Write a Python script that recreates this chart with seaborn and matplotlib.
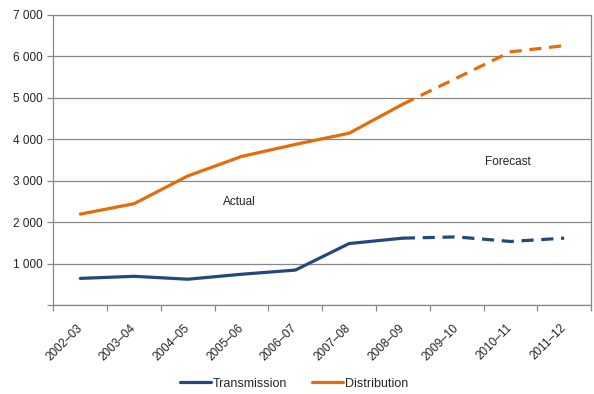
import matplotlib
matplotlib.use("Agg")
import matplotlib.pyplot as plt
import seaborn as sns
import pandas as pd
import numpy as np
from matplotlib.ticker import FixedLocator, FuncFormatter
from matplotlib.lines import Line2D

years = ["2002–03", "2003–04", "2004–05", "2005–06", "2006–07",
         "2007–08", "2008–09", "2009–10", "2010–11", "2011–12"]
transmission = [650, 700, 630, 750, 850, 1490, 1620, 1650, 1540, 1620]
distribution = [2200, 2450, 3120, 3590, 3880, 4150, 4850, 5480, 6110, 6260]
last_actual = 6  # index of 2008–09, where forecast begins

blue = "#23497C"
orange = "#E46C0A"

sns.set_theme(style="white")
plt.rcParams["font.family"] = ["Liberation Sans", "DejaVu Sans"]

pos = np.arange(len(years))
df = pd.DataFrame({"pos": pos, "Transmission": transmission, "Distribution": distribution})
actual = df[df.pos <= last_actual]
forecast = df[df.pos >= last_actual]

fig, ax = plt.subplots(figsize=(5.94, 3.94), dpi=100)
fig.subplots_adjust(left=0.09, right=0.995, top=0.962, bottom=0.225)

lw = 2.3
for col, c in [("Transmission", blue), ("Distribution", orange)]:
    sns.lineplot(data=actual, x="pos", y=col, color=c, linewidth=lw, ax=ax, legend=False)
    sns.lineplot(data=forecast, x="pos", y=col, color=c, linewidth=lw, ax=ax,
                 legend=False, dashes=False, linestyle=(0, (3.8, 2.4)))

ax.set_xlim(-0.5, len(years) - 0.5)
ax.set_ylim(0, 7000)
ax.set_xlabel("")
ax.set_ylabel("")

ax.set_yticks(np.arange(0, 7001, 1000))
ax.yaxis.set_major_formatter(FuncFormatter(lambda v, p: "" if v == 0 else f"{int(v):,}".replace(",", " ")))
ax.yaxis.grid(True, color="#888888", linewidth=0.9)
ax.set_axisbelow(True)

ax.xaxis.set_major_locator(FixedLocator(np.arange(-0.5, len(years), 1.0)))
ax.xaxis.set_major_formatter(FuncFormatter(lambda v, p: ""))
ax.xaxis.set_minor_locator(FixedLocator(pos - 0.08))
ax.set_xticklabels(years, minor=True)
ax.tick_params(axis="x", which="minor", length=0, pad=12, labelsize=8.5, colors="#222222")
ax.tick_params(axis="x", which="major", length=4, width=0.9, color="#888888", direction="out", bottom=True)
ax.tick_params(axis="y", length=4, width=0.9, color="#888888", direction="out", left=True, labelsize=8.5, labelcolor="#222222")
for lbl in ax.get_xticklabels(minor=True):
    lbl.set_rotation(45)
    lbl.set_ha("right")
    lbl.set_rotation_mode("anchor")

for s in ax.spines.values():
    s.set_color("#888888")
    s.set_linewidth(0.9)

ax.text(2.95, 2500, "Actual", fontsize=8.5, color="#222222", ha="center", va="center")
ax.text(7.95, 3450, "Forecast", fontsize=8.5, color="#222222", ha="center", va="center")

handles = [Line2D([], [], color=blue, linewidth=lw), Line2D([], [], color=orange, linewidth=lw)]
fig.legend(handles, ["Transmission", "Distribution"], loc="lower center",
           bbox_to_anchor=(0.495, -0.018), ncol=2, frameon=False, fontsize=9,
           handlelength=2.5, handletextpad=0.1, columnspacing=2.0)

fig.savefig("out.png", dpi=100)
